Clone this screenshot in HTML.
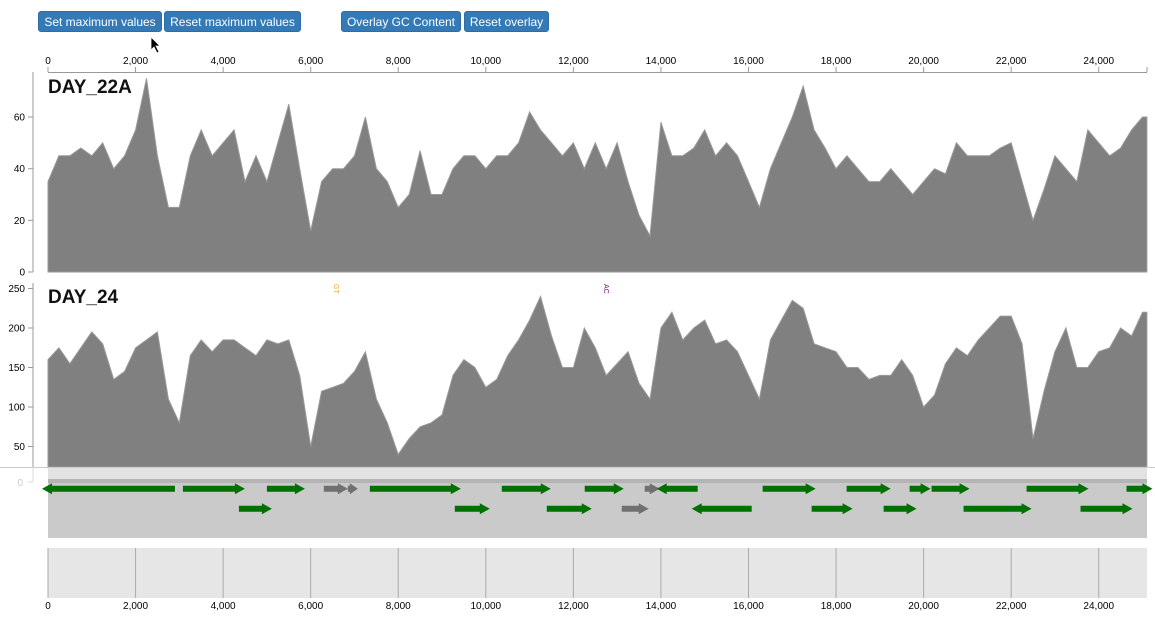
<!DOCTYPE html>
<html><head><meta charset="utf-8"><style>
body{margin:0;background:#fff;width:1155px;height:618px;overflow:hidden;font-family:"Liberation Sans",sans-serif;}
.btn{position:absolute;top:11px;height:21px;background:#337ab7;color:#fff;font-size:12px;line-height:21px;text-align:center;border-radius:3px;border:1px solid #2e6da4;box-sizing:border-box;}
svg{position:absolute;left:0;top:0;}
</style></head><body>
<div class="btn" style="left:38px;width:124px">Set maximum values</div>
<div class="btn" style="left:164px;width:137px">Reset maximum values</div>
<div class="btn" style="left:341px;width:120px">Overlay GC Content</div>
<div class="btn" style="left:464px;width:85px">Reset overlay</div>
<svg id="chart" width="1155" height="618"></svg>
<script>
const day22A = [35,45,45,48,45,50,40,45,55,75,45,25,25,45,55,45,50,55,35,45,35,50,65,40,16,35,40,40,45,60,40,35,25,30,47,30,30,40,45,45,40,45,45,50,62,55,50,45,50,40,50,40,50,35,22,14,58,45,45,48,55,45,50,45,35,25,40,50,60,72,55,48,40,45,40,35,35,40,35,30,35,40,38,50,45,45,45,48,50,35,20,32,45,40,35,55,50,45,48,55,60];
const day24 = [160,175,155,175,195,180,135,145,175,185,195,110,80,165,185,170,185,185,175,165,185,180,185,140,50,120,125,130,145,170,110,80,40,60,75,80,90,140,160,150,125,135,165,185,210,240,190,150,150,200,175,140,155,170,130,110,200,220,185,200,210,180,185,170,140,110,185,210,235,225,180,175,170,150,150,135,140,140,160,140,100,115,155,175,165,185,200,215,215,180,60,120,170,200,150,150,170,175,200,190,220];
const geneStarts = [-137,3082,5000,6301,6849,7352,10365,12260,13630,13904,16324,18242,19680,20183,22352,24635,4361,9292,11393,13105,14703,17443,19087,20913,23584];
const geneEnds =   [2900,4498,5868,6849,7078,9429,11484,13151,13973,14840,17534,19247,20160,21050,23767,25228,5114,10091,12420,13721,16073,18379,19840,22466,24772];
const geneStrand = [-1,1,1,1,1,1,1,1,1,-1,1,1,1,1,1,1,1,1,1,1,-1,1,1,1,1];
const geneRow =    [0,0,0,0,0,0,0,0,0,0,0,0,0,0,0,0,1,1,1,1,1,1,1,1,1];
const geneGray =   [0,0,0,1,1,0,0,0,1,0,0,0,0,0,0,0,0,0,0,1,0,0,0,0,0];
const xTicks = [0,2000,4000,6000,8000,10000,12000,14000,16000,18000,20000,22000,24000];
const yTicks22A = [0,20,40,60];
const yTicks24 = [50,100,150,200,250];
const STEP=250, END=25100;

const NS='http://www.w3.org/2000/svg';
const svg=document.getElementById('chart');
const X=bp=>48+bp*0.04378;
const Y1=v=>272-v*2.583;
const Y2=v=>486-v*0.79;
function mk(tag,attrs,parent){const e=document.createElementNS(NS,tag);for(const k in attrs)e.setAttribute(k,attrs[k]);(parent||svg).appendChild(e);return e;}
function fmt(n){return n.toLocaleString('en-US');}

const topAxis=mk('g',{});


mk('line',{x1:48,x2:1147,y1:72.5,y2:72.5,stroke:'#999'},topAxis);
xTicks.forEach(t=>{
  mk('line',{x1:X(t),x2:X(t),y1:67,y2:72,stroke:'#999'},topAxis);
  const tx=mk('text',{x:X(t),y:64,'font-size':10,'text-anchor':'middle',fill:'#000'},topAxis);
  tx.textContent=fmt(t);
  
  
});
mk('line',{x1:1147,x2:1147,y1:67,y2:72,stroke:'#999'},topAxis);

function area(vals,Yf,yBase,name){
  let d=`M${X(0)},${yBase}`;
  vals.forEach((v,i)=>{const bp=Math.min(i*STEP,END);d+=` L${X(bp).toFixed(1)},${Math.min(Yf(v),yBase).toFixed(1)}`;});
  d+=` L${X(END)},${Math.min(Yf(vals[vals.length-1]),yBase)} L${X(END)},${yBase} Z`;
  const p=mk('path',{d:d,fill:'#808080',stroke:'#9a9a9a','stroke-width':1});
  
  
}
area(day22A,Y1,272,'day-22a-coverage-area');
area(day24,Y2,467,'day-24-coverage-area');

function yAxis(ticks,Yf,top,bot,name){
  const g=mk('g',{});
  
  
  mk('line',{x1:33,x2:33,y1:top,y2:bot,stroke:'#999'},g);
  ticks.forEach(t=>{
    mk('line',{x1:28,x2:33,y1:Yf(t),y2:Yf(t),stroke:'#999'},g);
    const tx=mk('text',{x:25,y:Yf(t)+3.5,'font-size':10,'text-anchor':'end',fill:'#000'},g);
    tx.textContent=t;
    
    
  });
}
yAxis(yTicks22A,Y1,72,272,'day-22a-y-axis');
yAxis(yTicks24,Y2,283,467,'day-24-y-axis');

const t1=mk('text',{x:48,y:93,'font-size':19,'font-weight':'bold',fill:'#111'});t1.textContent='DAY_22A';

const t2=mk('text',{x:48,y:303,'font-size':19,'font-weight':'bold',fill:'#111'});t2.textContent='DAY_24';

const gt=mk('text',{x:0,y:0,'font-size':7,fill:'#f0a030',transform:'translate(334,284) rotate(90)'});gt.textContent='GT';

const ac=mk('text',{x:0,y:0,'font-size':7,fill:'#800080',transform:'translate(604,284) rotate(90)'});ac.textContent='AC';


mk('line',{x1:0,x2:1155,y1:467.5,y2:467.5,stroke:'#ccc'});
const gtr=mk('g',{});


mk('rect',{x:48,y:468,width:1099,height:70,fill:'#cacaca'},gtr);
mk('rect',{x:48,y:468,width:1099,height:11,fill:'#e2e2e2'},gtr);
mk('rect',{x:48,y:479,width:1099,height:4,fill:'#b4b4b4'},gtr);
mk('line',{x1:28,x2:33,y1:482,y2:482,stroke:'#ddd'});
mk('line',{x1:33,x2:33,y1:467,y2:482,stroke:'#ddd'});
const z=mk('text',{x:23,y:486,'font-size':10,'text-anchor':'end',fill:'#ccc'});z.textContent='0';
geneStarts.forEach((s,i)=>{
  const x1=X(s),x2=X(geneEnds[i]),cy=geneRow[i]?508.7:488.7;
  const h=Math.min(10,x2-x1-2);let pts;
  if(geneStrand[i]>0) pts=`${x1},${cy-3} ${x2-h},${cy-3} ${x2-h},${cy-5.5} ${x2},${cy} ${x2-h},${cy+5.5} ${x2-h},${cy+3} ${x1},${cy+3}`;
  else pts=`${x2},${cy-3} ${x1+h},${cy-3} ${x1+h},${cy-5.5} ${x1},${cy} ${x1+h},${cy+5.5} ${x1+h},${cy+3} ${x2},${cy+3}`;
  const p=mk('polygon',{points:pts,fill:geneGray[i]?'#707070':'#007000'},gtr);
  
  
});

const bot=mk('g',{});


mk('rect',{x:48,y:548,width:1099,height:50,fill:'#e6e6e6'},bot);
xTicks.forEach(t=>{
  mk('line',{x1:X(t),x2:X(t),y1:548,y2:598,stroke:'#aaa'},bot);
  const tx=mk('text',{x:X(t),y:609,'font-size':10,'text-anchor':'middle',fill:'#000'},bot);
  tx.textContent=fmt(t);
  
  
});
const cur=mk('polygon',{points:'151,37 151,50 154,47 157,53 159,52 156,46 160,46',fill:'#000',stroke:'#fff','stroke-width':0.8});


</script>
</body></html>
